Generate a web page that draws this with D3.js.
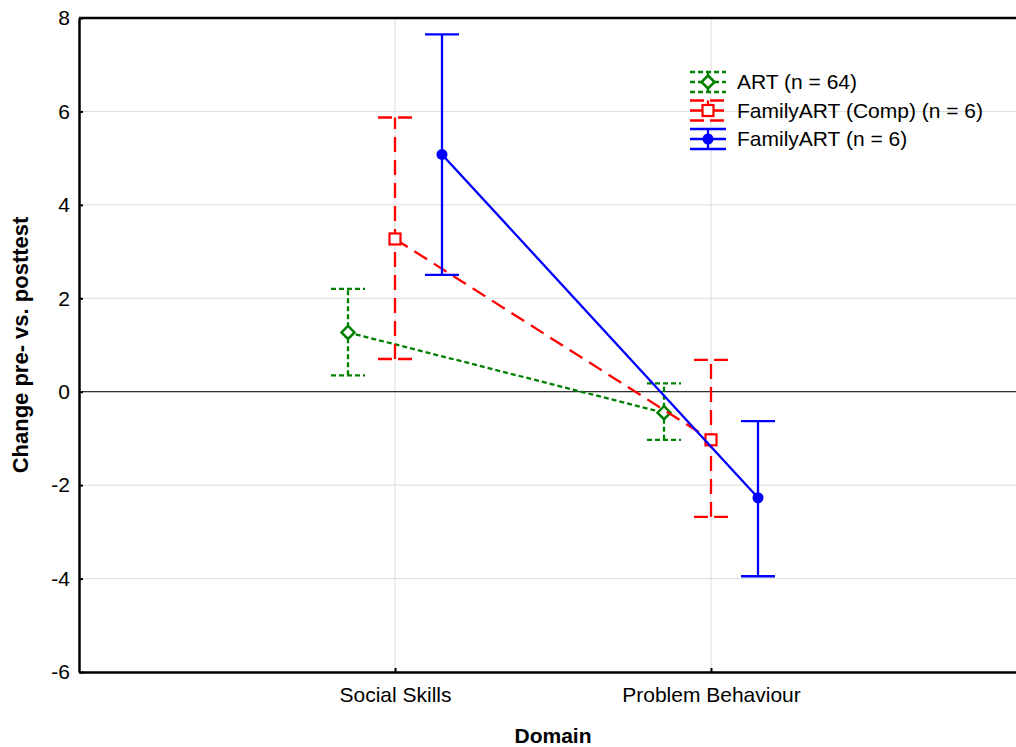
<!DOCTYPE html>
<html>
<head>
<meta charset="utf-8">
<script src="https://cdn.jsdelivr.net/npm/d3@7"></script>
<style>
  body { margin: 0; background: #fff; }
  svg { display: block; font-family: "Liberation Sans", Arial, sans-serif; }
</style>
</head>
<body>
<svg id="chart" width="1016" height="747"></svg>
<script>
// data
const domains = ["Social Skills", "Problem Behaviour"];
const yTicks = [-6, -4, -2, 0, 2, 4, 6, 8];

const groups = ["ART (n = 64)", "FamilyART (Comp) (n = 6)", "FamilyART (n = 6)"];
const means = [[1.27, -0.45], [3.27, -1.03], [5.08, -2.27]];
const lower = [[0.35, -1.03], [0.70, -2.68], [2.50, -3.95]];
const upper = [[2.20, 0.18], [5.87, 0.68], [7.65, -0.63]];

const colors = ["#008000", "#ff0000", "#0000ff"];
const dashes = ["5,3", "15,8", null];
const capDashes = ["5,3", "14,6,14", null];
const offsets = [-1, 0, 1];

const width = 1016, height = 747;
const margin = {top: 18, right: -11, bottom: 75, left: 79};

const svg = d3.select("#chart");

const x = d3.scaleLinear().domain([0, 3]).range([margin.left, width - margin.right]);
const y = d3.scaleLinear().domain([-6, 8]).range([height - margin.bottom, margin.top]);
const off = 47; // group offset in px

// grid
svg.append("g").selectAll("line").data(yTicks).join("line")
  .attr("x1", margin.left).attr("x2", width)
  .attr("y1", d => y(d)).attr("y2", d => y(d))
  .attr("stroke", "#dcdcdc").attr("stroke-width", 1);
svg.append("g").selectAll("line").data(domains).join("line")
  .attr("x1", (d, i) => x(i + 1)).attr("x2", (d, i) => x(i + 1))
  .attr("y1", y(8)).attr("y2", y(-6))
  .attr("stroke", "#dcdcdc").attr("stroke-width", 1);

// zero line
svg.append("line")
  .attr("x1", margin.left).attr("x2", width)
  .attr("y1", y(0)).attr("y2", y(0))
  .attr("stroke", "#333").attr("stroke-width", 1.2);

// axes
const yAxis = svg.append("g")
  .attr("transform", `translate(${margin.left},0)`)
  .call(d3.axisLeft(y).tickValues(yTicks).tickFormat(d => String(d))
    .tickSizeInner(-4).tickSizeOuter(0).tickPadding(9));
const xAxis = svg.append("g")
  .attr("transform", `translate(0,${y(-6)})`)
  .call(d3.axisBottom(x).tickValues([1, 2]).tickFormat((d) => domains[d - 1])
    .tickSizeInner(-4).tickSizeOuter(0).tickPadding(12));
[yAxis, xAxis].forEach(g => {
  g.select(".domain").attr("stroke", "#000").attr("stroke-width", 2.5);
  g.selectAll(".tick line").attr("stroke", "#000").attr("stroke-width", 2);
  g.selectAll("text").attr("font-size", 21).attr("fill", "#000")
    .attr("font-family", "Liberation Sans, Arial, sans-serif");
});
xAxis.selectAll("text").attr("dy", "0.85em");
svg.append("line")
  .attr("x1", margin.left).attr("x2", width)
  .attr("y1", y(8)).attr("y2", y(8))
  .attr("stroke", "#000").attr("stroke-width", 2.5);

// axis titles
svg.append("text")
  .attr("x", 553).attr("y", 743)
  .attr("text-anchor", "middle").attr("font-weight", "bold").attr("font-size", 21)
  .text("Domain");
svg.append("text")
  .attr("transform", `translate(28,${(y(8) + y(-6)) / 2}) rotate(-90)`)
  .attr("text-anchor", "middle").attr("font-weight", "bold").attr("font-size", 22)
  .text("Change pre- vs. posttest");

function marker(g, i, cx, cy) {
  if (i === 0) {
    g.append("path")
      .attr("d", `M${cx},${cy - 6.5}L${cx + 6.5},${cy}L${cx},${cy + 6.5}L${cx - 6.5},${cy}Z`)
      .attr("fill", "#fff").attr("stroke", colors[i]).attr("stroke-width", 2.5);
  } else if (i === 1) {
    g.append("rect").attr("x", cx - 5.5).attr("y", cy - 5.5).attr("width", 11).attr("height", 11)
      .attr("fill", "#fff").attr("stroke", colors[i]).attr("stroke-width", 2.2);
  } else {
    g.append("circle").attr("cx", cx).attr("cy", cy).attr("r", 5.5).attr("fill", colors[i]);
  }
}

const capW = 17;
groups.forEach((name, i) => {
  const g = svg.append("g");
  const px = d => x(d + 1) + offsets[i] * off;
  // connecting line
  g.append("path")
    .datum(means[i])
    .attr("d", d3.line().x((d, j) => px(j)).y(d => y(d)))
    .attr("fill", "none").attr("stroke", colors[i]).attr("stroke-width", 2.3)
    .attr("stroke-dasharray", dashes[i]);
  // error bars
  means[i].forEach((m, j) => {
    const cx = px(j);
    g.append("line").attr("x1", cx).attr("x2", cx)
      .attr("y1", y(lower[i][j])).attr("y2", y(upper[i][j]))
      .attr("stroke", colors[i]).attr("stroke-width", 2.3).attr("stroke-dasharray", dashes[i]);
    [lower[i][j], upper[i][j]].forEach(v => {
      g.append("line").attr("x1", cx - capW).attr("x2", cx + capW)
        .attr("y1", y(v)).attr("y2", y(v))
        .attr("stroke", colors[i]).attr("stroke-width", 2.3).attr("stroke-dasharray", capDashes[i]);
    });
  });
  means[i].forEach((m, j) => marker(g, i, px(j), y(m)));

  // legend
  const ly = 82 + i * 28.5, lx = 708;
  const lg = svg.append("g");
  [-10, 0, 10].forEach(dy => {
    lg.append("line").attr("x1", lx - 18).attr("x2", lx + 18)
      .attr("y1", ly + dy).attr("y2", ly + dy)
      .attr("stroke", colors[i]).attr("stroke-width", 2.3).attr("stroke-dasharray", capDashes[i]);
  });
  lg.append("line").attr("x1", lx).attr("x2", lx).attr("y1", ly - 10).attr("y2", ly + 10)
    .attr("stroke", colors[i]).attr("stroke-width", 2.3).attr("stroke-dasharray", dashes[i]);
  marker(lg, i, lx, ly);
  lg.append("text").attr("x", 737).attr("y", ly).attr("dy", "0.35em")
    .attr("font-size", 21).text(name);
});
</script>
</body>
</html>
